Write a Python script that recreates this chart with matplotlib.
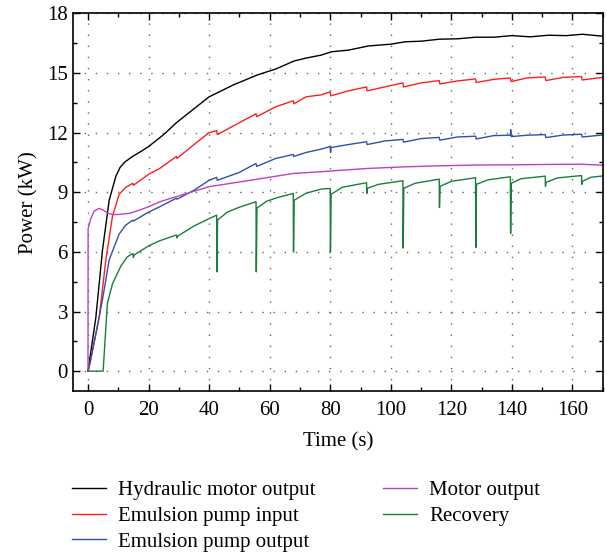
#!/usr/bin/env python3
# Power vs time for the hydraulic drive test
import matplotlib.pyplot as plt
from matplotlib.ticker import MultipleLocator

plt.rcParams['font.family'] = ['Liberation Serif', 'DejaVu Serif']

# Hydraulic motor output (black)
t_hyd = [0, 2.6, 4.8, 7, 9.2, 10.6, 12, 14.7, 18, 20, 25, 29.2, 35, 40, 48, 55.9, 62, 68, 72, 77,
         80.5, 86, 92.6, 100, 104.8, 110, 116, 122, 128, 134, 140, 146, 152, 158, 163.3, 170]
p_hyd = [0, 2.7, 6.1, 8.6, 9.8, 10.25, 10.5, 10.8, 11.1, 11.3, 11.9, 12.5, 13.2, 13.8, 14.4, 14.9, 15.2, 15.6,
         15.75, 15.9, 16.07, 16.15, 16.36, 16.45, 16.57, 16.6, 16.7, 16.72, 16.8, 16.8, 16.88, 16.82, 16.9, 16.88,
         16.95, 16.85]

# Emulsion pump input (red)
t_epi = [0, 0.1, 3.7, 5.9, 8.1, 10.3, 12.5, 14.8, 15.0, 20, 23.7, 29.2, 29.4, 35, 40, 42.5, 42.7, 50, 55.5, 55.7,
         62, 67.8, 68.0, 72, 77,
         80.0, 80.2, 86, 92.0, 92.2, 98, 104.0, 104.2, 110, 116.0, 116.2, 122, 128.0, 128.2, 134, 139.5, 139.7,
         145, 151.0, 151.2, 157, 163.0, 163.2, 170]
p_epi = [0, 0, 2.7, 5.6, 7.8, 8.9, 9.25, 9.45, 9.35, 9.9, 10.2, 10.8, 10.7, 11.4, 12.0, 12.1, 11.9, 12.5, 12.95, 12.8,
         13.3, 13.6, 13.45, 13.8, 13.9,
         14.05, 13.85, 14.1, 14.3, 14.1, 14.3, 14.5, 14.3, 14.5, 14.62, 14.45, 14.6, 14.7, 14.52, 14.68, 14.75, 14.57,
         14.75, 14.8, 14.62, 14.78, 14.82, 14.65, 14.78]

# Emulsion pump output (blue)
t_epo = [0, 0.8, 2.5, 4.8, 7, 10.3, 12.5, 14.8, 15.0, 20, 23.7, 29.2, 29.4, 35, 40, 42.5, 42.7, 50, 55.5, 55.7,
         62, 67.8, 68.0, 72, 77,
         80.0, 80.1, 80.3, 86, 92.0, 92.2, 98, 104.0, 104.2, 110, 116.0, 116.2, 122, 128.0, 128.2, 134,
         139.5, 139.6, 139.8, 145, 151.0, 151.2, 157, 163.0, 163.2, 170]
p_epo = [0, 0.5, 1.8, 3.6, 5.6, 6.9, 7.35, 7.6, 7.55, 8.0, 8.27, 8.7, 8.65, 9.1, 9.6, 9.75, 9.6, 10.0, 10.45, 10.3,
         10.7, 10.9, 10.8, 11.0, 11.17,
         11.3, 11.0, 11.25, 11.4, 11.54, 11.4, 11.58, 11.66, 11.52, 11.7, 11.76, 11.62, 11.78, 11.82, 11.68, 11.85,
         11.87, 12.15, 11.8, 11.87, 11.9, 11.75, 11.88, 11.92, 11.78, 11.88]

# Motor output (magenta)
t_mot = [0, 0.05, 1, 2, 3.7, 5, 6.5, 8.1, 10, 13.7, 17, 20, 23.7, 29, 40, 56, 68, 77, 80, 92.6, 104.8, 116, 128,
         140, 152, 163, 170]
p_mot = [0, 7.18, 7.7, 8.05, 8.19, 8.1, 7.95, 7.88, 7.88, 7.94, 8.1, 8.27, 8.52, 8.77, 9.28, 9.66, 9.95, 10.03,
         10.07, 10.2, 10.28, 10.33, 10.37, 10.38, 10.4, 10.41, 10.36]

# Recovery (green)
t_rec = [0, 5.0, 6.4, 8.1, 10.9, 13, 14.8, 15.0, 15.3, 20, 23.7, 29.2, 29.4, 29.7, 35, 40.1, 42.5, 42.55, 42.6,
         42.8, 46, 50,
         55.5, 55.55, 55.6, 55.8, 59, 63, 67.8, 67.85, 67.9, 68.1, 72, 77,
         80.0, 80.05, 80.1, 80.3, 84, 92.0, 92.05, 92.1, 92.3, 96, 104.0, 104.05, 104.1, 104.3, 108,
         116.0, 116.05, 116.1, 116.3, 120, 128.0, 128.05, 128.1, 128.3, 132, 139.5, 139.55, 139.6, 139.8, 143,
         151.0, 151.05, 151.1, 151.3, 155, 163.0, 163.05, 163.1, 163.3, 166, 170]
p_rec = [0, 0, 3.4, 4.4, 5.3, 5.75, 5.92, 5.72, 5.85, 6.3, 6.56, 6.85, 6.7, 6.8, 7.3, 7.68, 7.85, 5.0, 5.0,
         7.6, 8.0, 8.25,
         8.52, 5.0, 5.0, 8.2, 8.55, 8.75, 8.94, 6.0, 6.0, 8.6, 8.95, 9.16,
         9.19, 6.0, 6.0, 8.9, 9.25, 9.48, 8.94, 8.94, 9.2, 9.4, 9.58, 6.2, 6.2, 9.2, 9.45,
         9.66, 8.24, 8.24, 9.3, 9.55, 9.73, 6.22, 6.22, 9.4, 9.62, 9.78, 6.93, 6.93, 9.45, 9.68,
         9.81, 9.3, 9.3, 9.5, 9.72, 9.84, 9.4, 9.4, 9.55, 9.75, 9.82]

series = [
    ('Hydraulic motor output', t_hyd, p_hyd, 'black'),
    ('Emulsion pump input', t_epi, p_epi, '#ff1f1f'),
    ('Emulsion pump output', t_epo, p_epo, '#2f4fb0'),
    ('Motor output', t_mot, p_mot, '#c040c0'),
    ('Recovery', t_rec, p_rec, '#1a7d3a'),
]

fig = plt.figure(figsize=(6.07, 5.57), dpi=100)
ax = fig.add_axes([0.120, 0.298, 0.873, 0.678])

for name, t, p, c in series:
    ax.plot(t, p, color=c, lw=1.0, label=name)

ax.set_xlim(-5, 170)
ax.set_ylim(-1, 18)
ax.xaxis.set_major_locator(MultipleLocator(20))
ax.xaxis.set_minor_locator(MultipleLocator(10))
ax.yaxis.set_major_locator(MultipleLocator(3))
ax.yaxis.set_minor_locator(MultipleLocator(1.5))
ax.tick_params(which='both', direction='in', top=True, right=True, labelsize=15)
ax.tick_params(axis='x', which='major', pad=7)
ax.tick_params(which='major', length=5, width=1)
ax.tick_params(which='minor', length=3, width=1)
ax.grid(True, which='major', color='#666666', linestyle=(0, (1, 7)), linewidth=1)
for s in ax.spines.values():
    s.set_linewidth(1.2)

ax.set_xlabel('Time (s)', fontsize=15, labelpad=9)
ax.set_ylabel('Power (kW)', fontsize=15, labelpad=6)

fig.legend(loc='upper left', bbox_to_anchor=(0.087, 0.171), ncol=2, frameon=False,
           fontsize=15, handlelength=1.65, handletextpad=0.6, columnspacing=3.2,
           labelspacing=0.3)

plt.savefig('out.png', dpi=100)
plt.close()
